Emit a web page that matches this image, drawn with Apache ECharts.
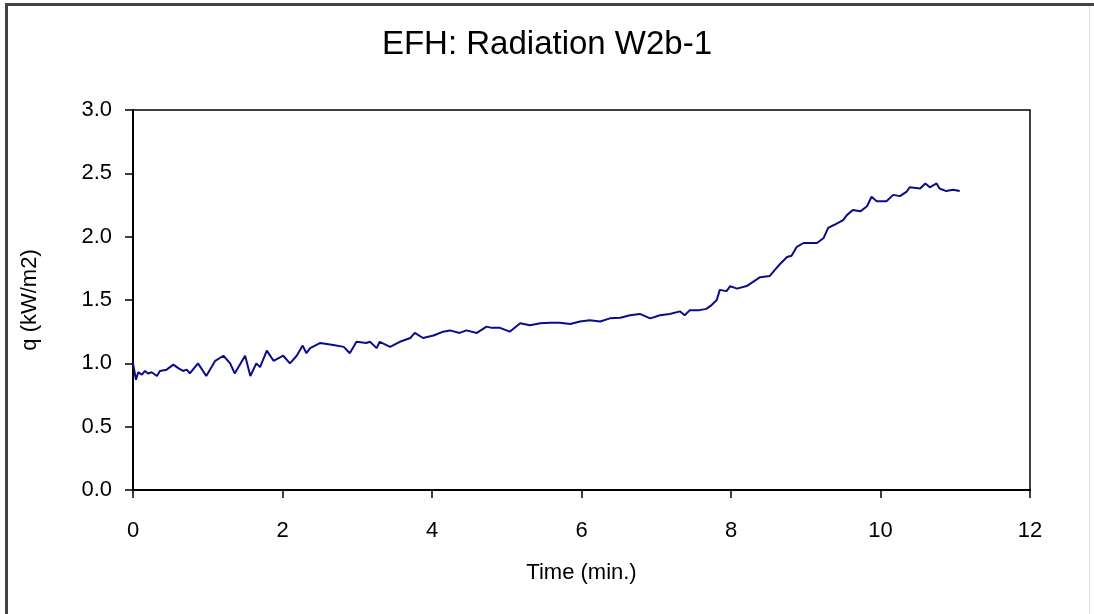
<!DOCTYPE html>
<html>
<head>
<meta charset="utf-8">
<script src="https://cdn.jsdelivr.net/npm/echarts@6/dist/echarts.min.js"></script>
<style>
html,body{margin:0;padding:0;background:#fff;}
#c{width:1094px;height:614px;}
</style>
</head>
<body>
<div id="c"></div>
<script>
const titleText = 'EFH: Radiation W2b-1';
const xName = 'Time (min.)';
const yName = 'q (kW/m2)';
const xTicks = [0, 2, 4, 6, 8, 10, 12];
const yTicks = [0.0, 0.5, 1.0, 1.5, 2.0, 2.5, 3.0];

const timeMin = [0.00,0.04,0.07,0.12,0.16,0.20,0.25,0.32,0.36,0.45,0.54,0.61,0.67,0.72,0.76,0.87,0.98,1.10,1.21,1.30,1.36,1.50,1.57,1.65,1.70,1.79,1.88,2.01,2.10,2.19,2.27,2.32,2.37,2.50,2.68,2.82,2.90,2.99,3.12,3.17,3.26,3.30,3.44,3.57,3.71,3.77,3.88,4.02,4.15,4.24,4.37,4.46,4.60,4.73,4.80,4.91,5.04,5.18,5.31,5.45,5.58,5.71,5.85,5.98,6.11,6.25,6.38,6.52,6.65,6.78,6.92,7.05,7.18,7.32,7.38,7.45,7.58,7.67,7.74,7.81,7.85,7.94,7.99,8.08,8.21,8.30,8.39,8.52,8.59,8.65,8.75,8.81,8.88,8.97,9.15,9.24,9.30,9.37,9.50,9.55,9.63,9.73,9.82,9.88,9.95,10.08,10.17,10.26,10.35,10.39,10.53,10.60,10.66,10.75,10.79,10.88,10.97,11.06];
const qValues = [1.00,0.87,0.93,0.91,0.94,0.92,0.93,0.90,0.94,0.95,0.99,0.96,0.94,0.95,0.92,1.00,0.90,1.02,1.06,1.00,0.92,1.06,0.90,1.00,0.97,1.10,1.02,1.06,1.00,1.06,1.14,1.08,1.12,1.16,1.145,1.13,1.08,1.17,1.16,1.17,1.12,1.17,1.13,1.17,1.20,1.24,1.20,1.22,1.25,1.26,1.24,1.26,1.24,1.29,1.28,1.28,1.25,1.316,1.30,1.316,1.32,1.32,1.31,1.33,1.34,1.33,1.355,1.36,1.38,1.39,1.355,1.38,1.39,1.41,1.38,1.42,1.42,1.43,1.46,1.50,1.58,1.57,1.61,1.59,1.61,1.645,1.68,1.69,1.74,1.78,1.84,1.85,1.92,1.95,1.95,1.99,2.07,2.09,2.13,2.17,2.21,2.20,2.24,2.315,2.28,2.28,2.33,2.32,2.355,2.39,2.38,2.42,2.39,2.42,2.38,2.36,2.37,2.36];

const seriesData = timeMin.map((t, i) => [t, qValues[i]]);
const font = 'Liberation Sans, Arial, sans-serif';

const chart = echarts.init(document.getElementById('c'), null, {renderer: 'canvas'});
chart.setOption({
  animation: false,
  backgroundColor: '#fff',
  title: {
    text: titleText, left: 'center', top: 23,
    textStyle: {fontFamily: font, fontSize: 33, fontWeight: 'normal', color: '#000'}
  },
  grid: {
    left: 133, right: 64, top: 110, bottom: 124,
    show: true, borderColor: '#000', borderWidth: 1.5, backgroundColor: 'transparent'
  },
  xAxis: {
    type: 'value', min: xTicks[0], max: xTicks[xTicks.length - 1], interval: 2,
    name: xName, nameLocation: 'middle', nameGap: 72,
    nameTextStyle: {fontFamily: font, fontSize: 22, color: '#000'},
    axisLine: {show: true, onZero: false, lineStyle: {color: '#000', width: 2}},
    axisTick: {show: true, inside: false, length: 8, lineStyle: {color: '#000', width: 1.5}},
    axisLabel: {fontFamily: font, fontSize: 22, color: '#000', margin: 30,
      formatter: v => xTicks.includes(v) ? String(v) : ''},
    splitLine: {show: false}
  },
  yAxis: {
    type: 'value', min: yTicks[0], max: yTicks[yTicks.length - 1], interval: 0.5,
    name: yName, nameLocation: 'middle', nameGap: 92, nameRotate: 90,
    nameTextStyle: {fontFamily: font, fontSize: 22, color: '#000'},
    axisLine: {show: true, onZero: false, lineStyle: {color: '#000', width: 2}},
    axisTick: {show: true, inside: false, length: 8, lineStyle: {color: '#000', width: 1.5}},
    axisLabel: {fontFamily: font, fontSize: 22, color: '#000', margin: 21,
      formatter: v => v.toFixed(1)},
    splitLine: {show: false}
  },
  series: [{
    type: 'line', data: seriesData, showSymbol: false, symbol: 'none',
    lineStyle: {color: '#0c0c8a', width: 2}, z: 3
  }],
  graphic: [
    {type: 'line', shape: {x1: 6, y1: 4.5, x2: 1094, y2: 4.5}, style: {stroke: '#444', lineWidth: 3}},
    {type: 'line', shape: {x1: 6.5, y1: 3, x2: 6.5, y2: 614}, style: {stroke: '#444', lineWidth: 3}},
    {type: 'line', shape: {x1: 1089.5, y1: 6, x2: 1089.5, y2: 614}, style: {stroke: '#ddd', lineWidth: 1}}
  ]
});
</script>
</body>
</html>
